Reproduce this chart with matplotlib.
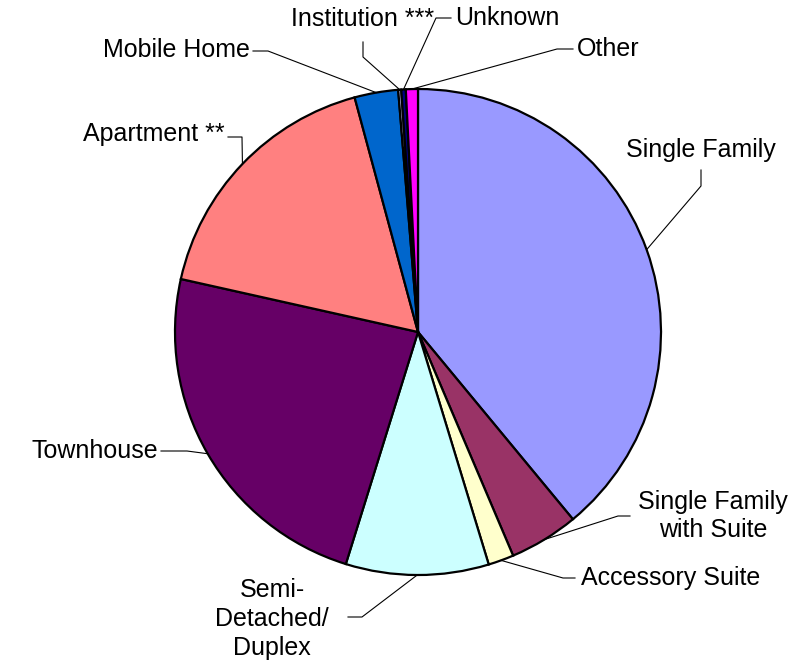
import numpy as np
import matplotlib
matplotlib.use('Agg')
import matplotlib.pyplot as plt

plt.rcParams['font.family'] = ['Liberation Sans', 'DejaVu Sans']

labels = ['Single Family', 'Single Family\nwith Suite', 'Accessory Suite',
          'Semi-\nDetached/\nDuplex', 'Townhouse', 'Apartment **',
          'Mobile Home', 'Institution ***', 'Unknown', 'Other']
shares = [39.0, 4.6, 1.7, 9.5, 23.7, 17.3, 2.9, 0.2, 0.3, 0.8]
colors = ['#9999FF', '#993366', '#FFFFCC', '#CCFFFF', '#660066',
          '#FF8080', '#0066CC', '#CCCCFF', '#000080', '#FF00FF']

# pie geometry in pixels
W, H = 803, 666
cx, cy, R = 418, 332, 243

def p2d(x, y):
    return ((x - cx) / R, (cy - y) / R)

# label text position (px), alignment, leader bend points (px) from label side
label_layout = [
    ((701, 150), 'center', [(701, 170), (701, 186)]),
    ((713, 516), 'center', [(630, 516), (618, 516)]),
    ((581, 578), 'left', [(575, 578), (563, 578)]),
    ((272, 619), 'center', [(348, 617), (362, 617)]),
    ((158, 451), 'right', [(161, 451), (187, 451)]),
    ((225, 134), 'right', [(228, 137), (242, 137)]),
    ((250, 50), 'right', [(253, 51), (268, 51)]),
    ((363, 19), 'center', [(363, 42), (363, 57)]),
    ((455, 18), 'left', [(451, 18), (436, 18)]),
    ((577, 49), 'left', [(573, 49), (557, 49)]),
]

fig = plt.figure(figsize=(W / 100, H / 100), dpi=100)
ax = fig.add_axes([0, 0, 1, 1])

wedges, _ = ax.pie(shares, colors=colors, startangle=90, counterclock=False,
                   radius=1, center=(0, 0),
                   wedgeprops=dict(edgecolor='black', linewidth=1.6))

for w, lab, (tpos, ha, bends) in zip(wedges, labels, label_layout):
    mid = np.deg2rad((w.theta1 + w.theta2) / 2)
    pts = [p2d(*b) for b in bends] + [(np.cos(mid), np.sin(mid))]
    xs, ys = zip(*pts)
    ax.plot(xs, ys, color='black', lw=0.8)
    tx, ty = p2d(*tpos)
    ax.text(tx, ty, lab, ha=ha, va='center', fontsize=18,
            multialignment='center', linespacing=1.25)

ax.set_xlim(-cx / R, (W - cx) / R)
ax.set_ylim(-(H - cy) / R, cy / R)
ax.set_aspect('equal')
ax.axis('off')

plt.savefig('out.png', dpi=100)
